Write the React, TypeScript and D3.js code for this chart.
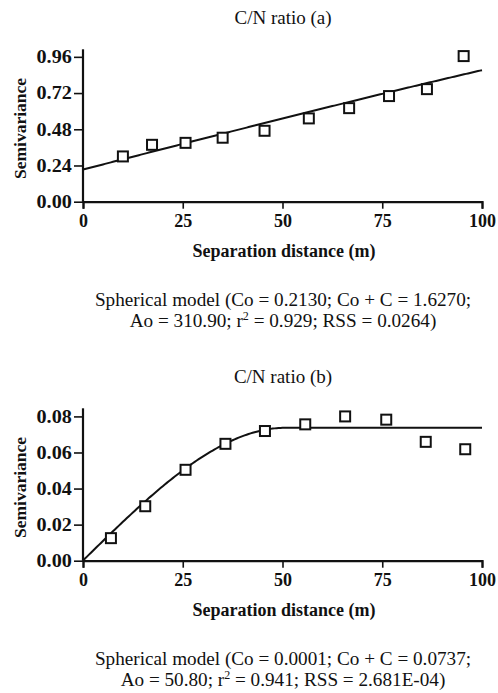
import * as React from "react";
import { useRef, useEffect } from "react";
import * as d3 from "d3";

// panel (a) experimental semivariogram
const distA = [10.0, 17.3, 25.7, 35.0, 45.5, 56.6, 66.7, 76.7, 86.2, 95.4];
const gammaA = [0.3, 0.377, 0.39, 0.424, 0.47, 0.552, 0.62, 0.7, 0.746, 0.965];
const modelA = { co: 0.213, sill: 1.627, range: 310.9 };
const ticksYA = [0, 0.24, 0.48, 0.72, 0.96];

// panel (b)
const distB = [7.0, 15.6, 25.7, 35.7, 45.6, 55.7, 65.7, 76.0, 85.9, 95.8];
const gammaB = [0.0125, 0.0302, 0.0504, 0.0648, 0.0719, 0.0756, 0.08, 0.0782, 0.0659, 0.0618];
const modelB = { co: 0.0001, sill: 0.0737, range: 50.8 };
const ticksYB = [0, 0.02, 0.04, 0.06, 0.08];

const ticksX = [0, 25, 50, 75, 100];

const panels = [
  {
    title: "C/N ratio (a)",
    dist: distA,
    gamma: gammaA,
    model: modelA,
    yTicks: ticksYA,
    yMax: 1.01,
    caption: [
      "Spherical model (Co = 0.2130; Co + C = 1.6270;",
      ["Ao = 310.90; r", "2", " = 0.929; RSS = 0.0264)"],
    ],
    top: 0,
  },
  {
    title: "C/N ratio (b)",
    dist: distB,
    gamma: gammaB,
    model: modelB,
    yTicks: ticksYB,
    yMax: 0.0845,
    caption: [
      "Spherical model (Co = 0.0001; Co + C = 0.0737;",
      ["Ao = 50.80; r", "2", " = 0.941; RSS = 2.681E-04)"],
    ],
    top: 359,
  },
];

const spherical = (m, h) => {
  if (h >= m.range) return m.sill;
  const r = h / m.range;
  return m.co + (m.sill - m.co) * (1.5 * r - 0.5 * r * r * r);
};

export default function App() {
  const _ref = useRef(null);
  useEffect(() => {
    const el = _ref.current;
    el.innerHTML = "";
    const font = "Liberation Serif, Times New Roman, serif";
    const ink = "#111";
    const svg = d3
      .select(el)
      .append("svg")
      .attr("width", 498)
      .attr("height", 693)
      .style("position", "absolute")
      .style("left", "0px")
      .style("top", "0px")
      .style("background", "#fff");

    const x0 = 83, x1 = 482, yBottom = 201.7, plotH = 152.4;
    const fmt = d3.format(".2f");

    panels.forEach((p) => {
      const g = svg.append("g").attr("transform", `translate(0,${p.top})`);
      const x = d3.scaleLinear().domain([0, 100]).range([x0, x1]);
      const y = d3.scaleLinear().domain([0, p.yMax]).range([yBottom, yBottom - plotH]);

      // title
      g.append("text")
        .attr("x", 283)
        .attr("y", 24)
        .attr("text-anchor", "middle")
        .attr("font-family", font)
        .attr("font-size", 19)
        .attr("fill", ink)
        .text(p.title);

      // y axis
      const yAxis = g
        .append("g")
        .attr("transform", `translate(${x0},0)`)
        .call(d3.axisLeft(y).tickValues(p.yTicks).tickFormat(fmt).tickSizeOuter(0).tickSize(9).tickPadding(2));
      // x axis
      const xAxis = g
        .append("g")
        .attr("transform", `translate(0,${yBottom})`)
        .call(d3.axisBottom(x).tickValues(ticksX).tickSizeOuter(0).tickSize(7).tickPadding(3));

      [yAxis, xAxis].forEach((ax) => {
        ax.attr("font-family", font).attr("font-size", 18);
        ax.select(".domain").attr("stroke", ink).attr("stroke-width", 2.2);
        ax.selectAll(".tick line").attr("stroke", ink).attr("stroke-width", 1.6);
        ax.selectAll(".tick text").attr("fill", ink).attr("font-weight", "bold");
      });
      yAxis.select(".domain").attr("d", `M0,${yBottom}V${yBottom - plotH}`);
      xAxis.selectAll(".tick text").attr("dy", "0.85em");
      yAxis.selectAll(".tick text").attr("transform", "scale(1.12,1)").attr("x", -10);

      // axis labels
      g.append("text")
        .attr("transform", `translate(26,${(yBottom + yBottom - plotH) / 2 + 3}) rotate(-90)`)
        .attr("text-anchor", "middle")
        .attr("font-family", font)
        .attr("font-size", 17.5)
        .attr("font-weight", "bold")
        .attr("fill", ink)
        .text("Semivariance");
      g.append("text")
        .attr("x", 284)
        .attr("y", 257)
        .attr("text-anchor", "middle")
        .attr("font-family", font)
        .attr("font-size", 18)
        .attr("font-weight", "bold")
        .attr("fill", ink)
        .text("Separation distance (m)");

      // model curve
      const hs = d3.range(0, 100.01, 0.5);
      const line = d3
        .line()
        .x((h) => x(h))
        .y((h) => y(spherical(p.model, h)));
      g.append("path")
        .datum(hs)
        .attr("fill", "none")
        .attr("stroke", ink)
        .attr("stroke-width", 2)
        .attr("d", line);

      // observed points
      const s = 10;
      g.selectAll("rect.pt")
        .data(p.dist)
        .join("rect")
        .attr("class", "pt")
        .attr("x", (d) => x(d) - s / 2)
        .attr("y", (d, i) => y(p.gamma[i]) - s / 2)
        .attr("width", s)
        .attr("height", s)
        .attr("fill", "#fff")
        .attr("stroke", ink)
        .attr("stroke-width", 2);

      // caption
      const cap = g
        .append("text")
        .attr("text-anchor", "middle")
        .attr("font-family", font)
        .attr("font-size", 19.2)
        .attr("fill", ink);
      cap.append("tspan").attr("x", 283).attr("y", 306).text(p.caption[0]);
      const l2 = cap.append("tspan").attr("x", 283).attr("y", 327);
      l2.append("tspan").text(p.caption[1][0]);
      l2.append("tspan").attr("dy", -7).attr("font-size", 12).text(p.caption[1][1]);
      l2.append("tspan").attr("dy", 7).text(p.caption[1][2]);
    });
  }, []);

  return <div ref={_ref}></div>;
}
